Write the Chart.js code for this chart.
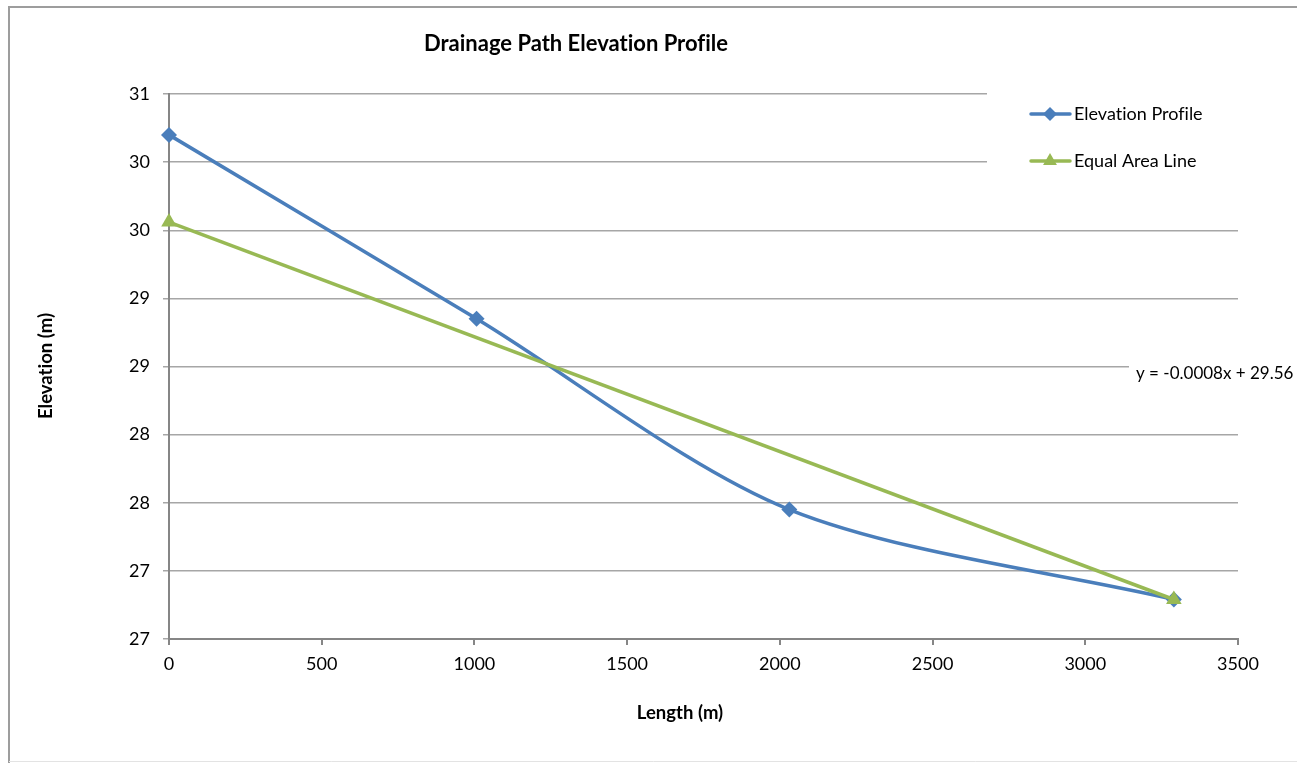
<!DOCTYPE html>
<html>
<head>
<meta charset="utf-8">
<title>Drainage Path Elevation Profile</title>
<script src="https://cdn.jsdelivr.net/npm/chart.js@4/dist/chart.umd.min.js"></script>
<style>
  html, body { margin: 0; padding: 0; background: #fff; }
  #wrap { position: absolute; left: 0; top: 0; width: 1297px; height: 763px; }
</style>
</head>
<body>
<div id="wrap"><canvas id="chart" width="1297" height="763"></canvas></div>
<script>
// Surveyed points along the drainage path
const lengthM    = [0, 1007, 2031, 3290];
const elevationM = [30.2, 28.85, 27.45, 26.79];

// Equal area line end points
const equalAreaLength = [0, 3290];
const equalAreaElev   = [29.56, 26.79];

// Axis tick values
const xTickValues = [0, 500, 1000, 1500, 2000, 2500, 3000, 3500];
const yTickValues = [26.5, 27, 27.5, 28, 28.5, 29, 29.5, 30, 30.5];

const seriesNames = ['Elevation Profile', 'Equal Area Line'];
const chartTitle = 'Drainage Path Elevation Profile';
const xTitle = 'Length (m)';
const yTitle = 'Elevation (m)';

const BLUE = '#4a7ebb';
const GREEN = '#98b954';
const FONT = 'Lato, "Liberation Sans", sans-serif';

// Straight-line fit through the equal area points, for the equation label
function fitLine(xs, ys) {
  const n = xs.length;
  const mx = xs.reduce((a, b) => a + b, 0) / n;
  const my = ys.reduce((a, b) => a + b, 0) / n;
  let sxy = 0, sxx = 0;
  for (let i = 0; i < n; i++) { sxy += (xs[i] - mx) * (ys[i] - my); sxx += (xs[i] - mx) ** 2; }
  const m = sxy / sxx;
  return { m, b: my - m * mx };
}
const fit = fitLine(equalAreaLength, equalAreaElev);
const equationText = 'y = ' + fit.m.toFixed(4) + 'x + ' + fit.b.toFixed(2);

function toPoints(xs, ys) { return xs.map((x, i) => ({ x, y: ys[i] })); }

const decor = {
  id: 'decor',
  beforeDraw(chart) {
    const c = chart.ctx;
    c.save();
    c.fillStyle = '#fff';
    c.fillRect(0, 0, chart.width, chart.height);
    // outer frame
    c.strokeStyle = '#9d9d9d';
    c.lineWidth = 2;
    c.beginPath();
    c.moveTo(9, 763); c.lineTo(9, 7); c.lineTo(1300, 7);
    c.stroke();
    c.strokeStyle = '#e3e3e3';
    c.lineWidth = 1;
    c.beginPath();
    c.moveTo(9, 761.5); c.lineTo(1300, 761.5);
    c.stroke();
    c.restore();
  },
  afterDraw(chart) {
    const c = chart.ctx;
    c.save();
    c.textRendering = 'optimizeSpeed';
    c.fillStyle = '#000';
    c.textBaseline = 'middle';

    // title
    c.font = 'bold 22px ' + FONT;
    c.textAlign = 'center';
    c.fillText(chartTitle, 576, 44);

    // axis titles
    c.font = 'bold 18.5px ' + FONT;
    c.fillText(xTitle, 680, 713);
    c.save();
    c.translate(46, 366);
    c.rotate(-Math.PI / 2);
    c.fillText(yTitle, 0, 0);
    c.restore();

    // legend
    c.fillStyle = '#fff';
    c.fillRect(987, 84, 252, 112);
    const entries = [
      { name: seriesNames[0], color: BLUE, style: 'rectRot', r: 7, y: 114 },
      { name: seriesNames[1], color: GREEN, style: 'triangle', r: 8, y: 161 }
    ];
    entries.forEach(e => {
      c.strokeStyle = e.color;
      c.lineWidth = 3.5;
      c.lineCap = 'round';
      c.beginPath();
      c.moveTo(1031, e.y); c.lineTo(1070, e.y);
      c.stroke();
      c.fillStyle = e.color;
      Chart.helpers.drawPoint(c, { pointStyle: e.style, radius: e.r, borderWidth: 0 }, 1050, e.y);
      c.fillStyle = '#000';
      c.font = '18px ' + FONT;
      c.textAlign = 'left';
      c.fillText(e.name, 1074, e.y);
    });

    // trendline equation
    c.fillStyle = '#fff';
    c.fillRect(1129, 358, 170, 30);
    c.fillStyle = '#000';
    c.font = '17px ' + FONT;
    c.textAlign = 'left';
    c.fillText(equationText, 1136, 374);
    c.restore();
  }
};

new Chart(document.getElementById('chart'), {
  type: 'scatter',
  data: {
    datasets: [
      {
        label: seriesNames[0],
        data: toPoints(lengthM, elevationM),
        showLine: true,
        borderColor: BLUE,
        backgroundColor: BLUE,
        borderWidth: 3.5,
        pointStyle: 'rectRot',
        pointRadius: 8,
        pointBorderWidth: 0,
        tension: 0.3,
        clip: false,
        order: 2
      },
      {
        label: seriesNames[1],
        data: toPoints(equalAreaLength, equalAreaElev),
        showLine: true,
        borderColor: GREEN,
        backgroundColor: GREEN,
        borderWidth: 3.5,
        pointStyle: 'triangle',
        pointRadius: 9,
        pointBorderWidth: 0,
        tension: 0,
        clip: false,
        order: 1
      }
    ]
  },
  options: {
    responsive: false,
    animation: false,
    events: [],
    layout: { padding: { top: 94, right: 59, left: 0, bottom: 0 } },
    plugins: { legend: { display: false }, tooltip: { enabled: false }, title: { display: false } },
    scales: {
      x: {
        type: 'linear',
        min: 0, max: 3500,
        afterBuildTicks: s => { s.ticks = xTickValues.map(v => ({ value: v })); },
        afterFit: s => { s.height = 124; },
        grid: { drawOnChartArea: false, drawTicks: true, tickLength: 6, color: '#868686', lineWidth: 2 },
        border: { color: '#868686', width: 2 },
        ticks: { padding: 8, color: '#000', font: { family: FONT, size: 18 }, maxRotation: 0, callback: v => String(v) }
      },
      y: {
        type: 'linear',
        min: 26.5, max: 30.5,
        afterBuildTicks: s => { s.ticks = yTickValues.map(v => ({ value: v })); },
        afterFit: s => { s.width = 169; },
        grid: { drawOnChartArea: true, drawTicks: true, tickLength: 6, color: '#a6a6a6', lineWidth: 1.5 },
        border: { color: '#868686', width: 2 },
        ticks: { padding: 13, color: '#000', font: { family: FONT, size: 18 }, callback: v => String(Math.round(v)) }
      }
    }
  },
  plugins: [decor]
});
</script>
</body>
</html>
